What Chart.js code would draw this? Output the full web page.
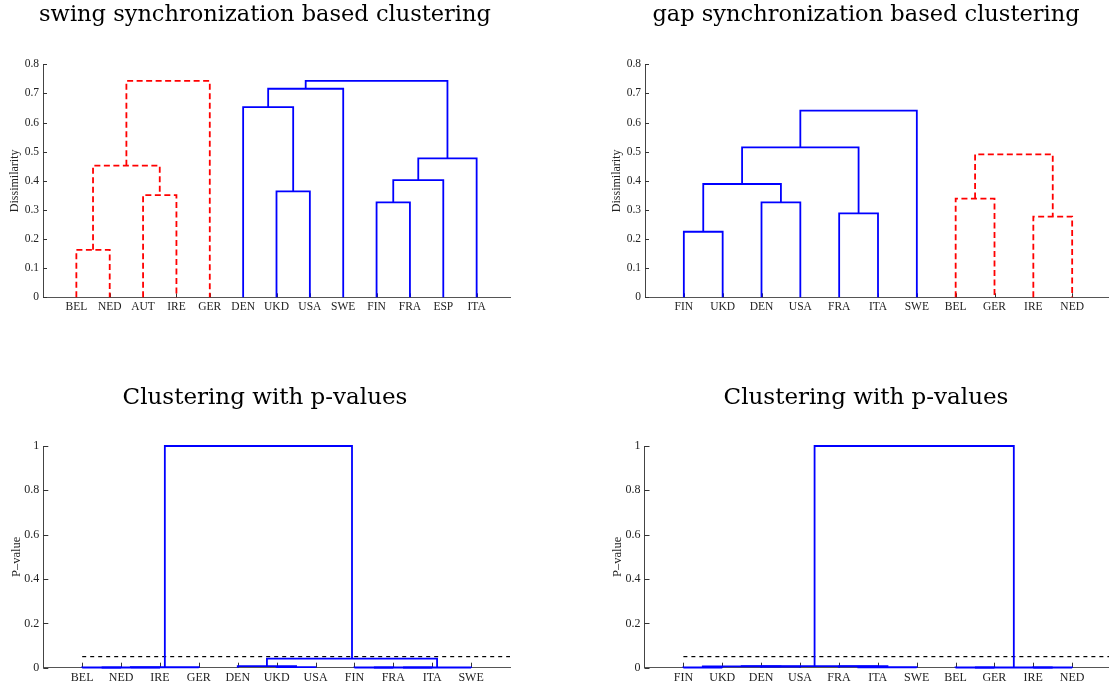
<!DOCTYPE html>
<html>
<head>
<meta charset="utf-8">
<script src="https://cdn.jsdelivr.net/npm/chart.js@4.4.1/dist/chart.umd.min.js"></script>
<style>
html,body{margin:0;padding:0;background:#fff;overflow:hidden;width:1109px;height:688px;}
#wrap{position:relative;width:1109px;height:688px;overflow:hidden;background:#fff;}
canvas{position:absolute;}
</style>
</head>
<body>
<div id="wrap">
<canvas id="swing" width="530" height="330" style="left:0px;top:0px"></canvas>
<canvas id="gap" width="536" height="330" style="left:600px;top:0px"></canvas>
<canvas id="pswing" width="530" height="308" style="left:0px;top:380px"></canvas>
<canvas id="pgap" width="536" height="308" style="left:600px;top:380px"></canvas>
</div>
<script>
// ---------------- data ----------------
const swingTitle = 'swing synchronization based clustering';
const gapTitle = 'gap synchronization based clustering';
const pTitle = 'Clustering with p-values';
const dissimLabel = 'Dissimilarity';
const pLabel = 'P\u2013value';

// leaves in dendrogram order
const swingLeaves = ['BEL','NED','AUT','IRE','GER','DEN','UKD','USA','SWE','FIN','FRA','ESP','ITA'];
// links: [left child, right child, merge height]; link k creates cluster 'c'+(k+1)
const swingLinks = [
  ['BEL','NED',0.163],
  ['AUT','IRE',0.351],
  ['c1','c2',0.452],
  ['c3','GER',0.743],
  ['UKD','USA',0.364],
  ['DEN','c5',0.653],
  ['c6','SWE',0.716],
  ['FIN','FRA',0.326],
  ['c8','ESP',0.402],
  ['c9','ITA',0.477],
  ['c7','c10',0.743]
];
const swingGroup = [1,1,1,1,2,2,2,2,2,2,2];

const gapLeaves = ['FIN','UKD','DEN','USA','FRA','ITA','SWE','BEL','GER','IRE','NED'];
const gapLinks = [
  ['FIN','UKD',0.225],
  ['DEN','USA',0.326],
  ['c1','c2',0.389],
  ['FRA','ITA',0.288],
  ['c3','c4',0.515],
  ['c5','SWE',0.641],
  ['BEL','GER',0.339],
  ['IRE','NED',0.277],
  ['c7','c8',0.491]
];
const gapGroup = [2,2,2,2,2,2,1,1,1];

const pSwingLeaves = ['BEL','NED','IRE','GER','DEN','UKD','USA','FIN','FRA','ITA','SWE'];
const pSwingLinks = [
  ['BEL','NED',0.001],
  ['c1','IRE',0.001],
  ['c2','GER',0.002],
  ['UKD','USA',0.003],
  ['DEN','c4',0.007],
  ['FIN','FRA',0.001],
  ['c6','ITA',0.001],
  ['c7','SWE',0.001],
  ['c5','c8',0.041],
  ['c3','c9',1.0]
];
const pSwingGroup = [2,2,2,2,2,2,2,2,2,2];

const pGapLeaves = ['FIN','UKD','DEN','USA','FRA','ITA','SWE','BEL','GER','IRE','NED'];
const pGapLinks = [
  ['FIN','UKD',0.001],
  ['DEN','USA',0.005],
  ['c1','c2',0.006],
  ['FRA','ITA',0.006],
  ['c4','SWE',0.002],
  ['c3','c5',0.007],
  ['BEL','GER',0.001],
  ['IRE','NED',0.001],
  ['c7','c8',0.001],
  ['c6','c9',1.0]
];
const pGapGroup = [2,2,2,2,2,2,2,2,2,2];

const pThreshold = 0.05;

const dissimTicks = [0,0.1,0.2,0.3,0.4,0.5,0.6,0.7,0.8];
const dissimTickLabels = ['0','0.1','0.2','0.3','0.4','0.5','0.6','0.7','0.8'];
const pTicks = [0,0.2,0.4,0.6,0.8,1];
const pTickLabels = ['0','0.2','0.4','0.6','0.8','1'];

// ---------------- drawing ----------------
Chart.defaults.devicePixelRatio = 1;

const insideTicks = {
  id: 'insideTicks',
  beforeDatasetsDraw(chart, args, opts) {
    const {ctx, scales: {x, y}} = chart;
    const len = opts.len || 4;
    ctx.save();
    ctx.strokeStyle = '#333';
    ctx.lineWidth = 1;
    ctx.beginPath();
    x.ticks.forEach(t => {
      const px = Math.round(x.getPixelForValue(t.value)) + 0.5;
      ctx.moveTo(px, y.bottom);
      ctx.lineTo(px, y.bottom - len);
    });
    y.ticks.forEach(t => {
      const py = Math.round(y.getPixelForValue(t.value)) + 0.5;
      ctx.moveTo(x.left, py);
      ctx.lineTo(x.left + len, py);
    });
    ctx.stroke();
    ctx.restore();
  }
};

function buildDatasets(leaves, links, groups, threshold) {
  const pos = {}, hgt = {};
  leaves.forEach((l, i) => { pos[l] = i + 1; hgt[l] = 0; });
  const ds = [];
  links.forEach((lk, k) => {
    const [a, b, h] = lk;
    const xl = pos[a], xr = pos[b];
    const red = groups[k] === 1;
    ds.push({
      data: [{x: xl, y: hgt[a]}, {x: xl, y: h}, {x: xr, y: h}, {x: xr, y: hgt[b]}],
      borderColor: red ? '#ff0000' : '#0000ff',
      borderWidth: 1.8,
      borderDash: red ? [6, 3.5] : [],
      pointRadius: 0,
      tension: 0,
      fill: false,
      clip: false,
      borderJoinStyle: 'miter',
      borderCapStyle: 'butt'
    });
    const id = 'c' + (k + 1);
    pos[id] = (xl + xr) / 2;
    hgt[id] = h;
  });
  if (threshold !== undefined) {
    ds.push({
      data: [{x: 1, y: threshold}, {x: leaves.length + 1, y: threshold}],
      borderColor: '#000',
      borderWidth: 1.2,
      borderDash: [4, 4],
      pointRadius: 0,
      fill: false,
      clip: false
    });
  }
  return ds;
}

function makeChart(id, c) {
  const ds = buildDatasets(c.leaves, c.links, c.groups, c.threshold);
  const ctx = document.getElementById(id);
  return new Chart(ctx, {
    type: 'line',
    data: {datasets: ds},
    plugins: [insideTicks],
    options: {
      responsive: false,
      animation: false,
      events: [],
      layout: {padding: {left: c.padLeft, right: c.padRight, top: 0, bottom: c.padBottom}},
      plugins: {
        legend: {display: false},
        tooltip: {enabled: false},
        insideTicks: {len: c.tickLen},
        title: {
          display: true,
          text: c.title,
          color: '#000',
          font: {family: 'DejaVu Serif', size: c.titleSize, weight: 'normal', lineHeight: 1.1},
          padding: {top: c.titlePadTop, bottom: c.titlePadBottom}
        }
      },
      scales: {
        x: {
          type: 'linear',
          min: 0,
          max: c.leaves.length + 1,
          grid: {display: false, drawTicks: false},
          border: {display: true, color: '#555', width: 1},
          afterBuildTicks: s => { s.ticks = c.leaves.map((_, i) => ({value: i + 1})); },
          afterFit: s => { s.height = c.xAxisHeight; },
          ticks: {
            autoSkip: false,
            maxRotation: 0,
            padding: 3,
            color: '#222',
            font: {family: 'Liberation Serif', size: c.tickSize},
            callback: v => c.leaves[Math.round(v) - 1]
          }
        },
        y: {
          type: 'linear',
          min: 0,
          max: c.ymax,
          grid: {display: false, drawTicks: false},
          border: {display: true, color: '#444', width: 1},
          afterBuildTicks: s => { s.ticks = c.yTicks.map(v => ({value: v})); },
          afterFit: s => { s.width = c.yAxisWidth; },
          ticks: {
            padding: 4,
            color: '#222',
            font: {family: 'Liberation Serif', size: c.tickSize},
            callback: (v, i) => c.yTickLabels[i]
          },
          title: {
            display: true,
            text: c.yTitle,
            color: '#222',
            font: {family: 'Liberation Serif', size: c.yTitleSize, lineHeight: 1.2},
            padding: {top: c.yTitlePad, bottom: 0}
          }
        }
      }
    }
  });
}

makeChart('swing', {
  leaves: swingLeaves, links: swingLinks, groups: swingGroup,
  title: swingTitle, yTitle: dissimLabel, ymax: 0.8,
  yTicks: dissimTicks, yTickLabels: dissimTickLabels,
  padLeft: 20, padRight: 20, padBottom: 7.7, xAxisHeight: 25, yAxisWidth: 23,
  titleSize: 22.5, titlePadTop: 2.5, titlePadBottom: 37.05,
  tickSize: 11.5, yTitleSize: 12, yTitlePad: -12.2, tickLen: 4
});
makeChart('gap', {
  leaves: gapLeaves, links: gapLinks, groups: gapGroup,
  title: gapTitle, yTitle: dissimLabel, ymax: 0.8,
  yTicks: dissimTicks, yTickLabels: dissimTickLabels,
  padLeft: 21, padRight: 25, padBottom: 7.7, xAxisHeight: 25, yAxisWidth: 24,
  titleSize: 22.5, titlePadTop: 2.5, titlePadBottom: 37.05,
  tickSize: 11.5, yTitleSize: 12, yTitlePad: -11.5, tickLen: 4
});
makeChart('pswing', {
  leaves: pSwingLeaves, links: pSwingLinks, groups: pSwingGroup, threshold: pThreshold,
  title: pTitle, yTitle: pLabel, ymax: 1,
  yTicks: pTicks, yTickLabels: pTickLabels,
  padLeft: 20, padRight: 20, padBottom: 0.3, xAxisHeight: 20, yAxisWidth: 23.3,
  titleSize: 23, titlePadTop: 5.35, titlePadBottom: 35.35,
  tickSize: 12, yTitleSize: 12.5, yTitlePad: -10.3, tickLen: 5
});
makeChart('pgap', {
  leaves: pGapLeaves, links: pGapLinks, groups: pGapGroup, threshold: pThreshold,
  title: pTitle, yTitle: pLabel, ymax: 1,
  yTicks: pTicks, yTickLabels: pTickLabels,
  padLeft: 21, padRight: 25, padBottom: 0.3, xAxisHeight: 20, yAxisWidth: 23.5,
  titleSize: 23, titlePadTop: 5.35, titlePadBottom: 35.35,
  tickSize: 12, yTitleSize: 12.5, yTitlePad: -10.5, tickLen: 5
});
</script>
</body>
</html>
